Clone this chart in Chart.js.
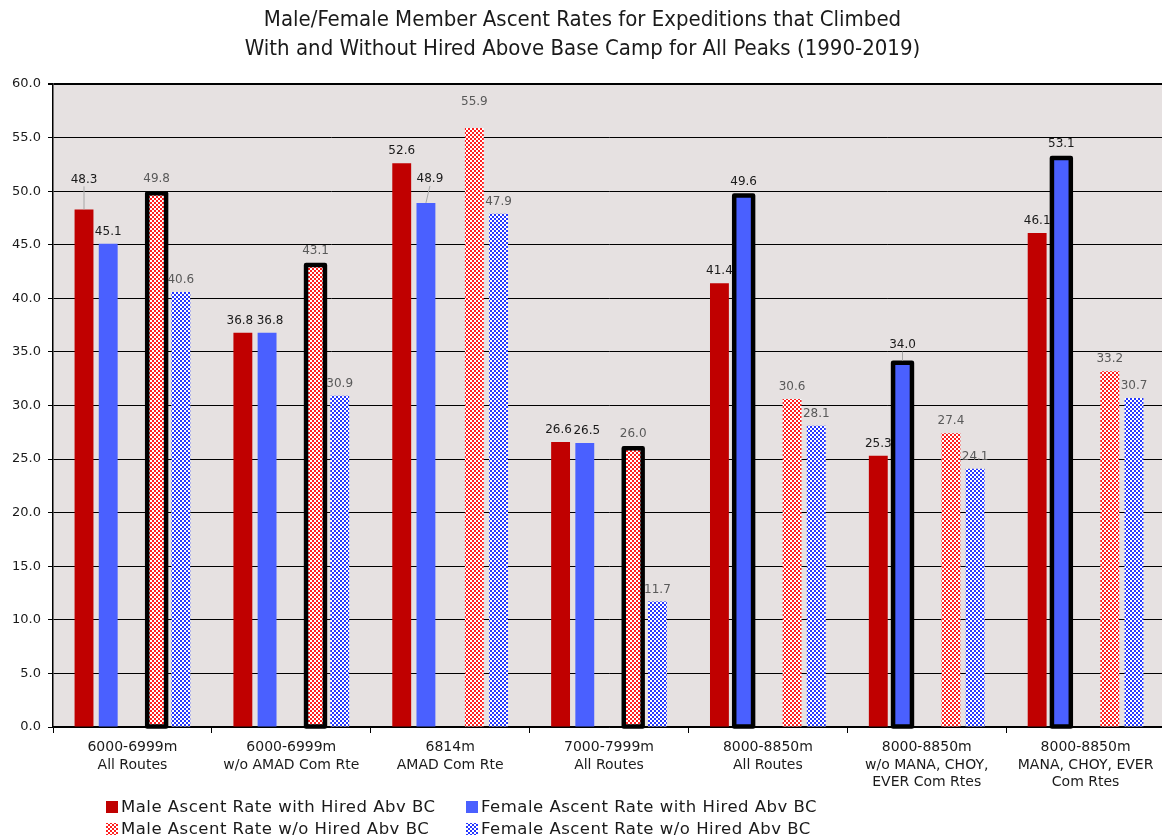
<!DOCTYPE html>
<html><head><meta charset="utf-8">
<script src="https://cdn.jsdelivr.net/npm/chart.js@4.4.1/dist/chart.umd.min.js"></script>
<style>
html,body{margin:0;padding:0;background:#fff;overflow:hidden;}
#wrap{width:1168px;height:840px;position:relative;}
</style>
</head><body><div id="wrap"><canvas id="c"></canvas></div>
<script>
const categories = [
  ["6000-6999m", "All Routes"],
  ["6000-6999m", "w/o AMAD Com Rte"],
  ["6814m", "AMAD Com Rte"],
  ["7000-7999m", "All Routes"],
  ["8000-8850m", "All Routes"],
  ["8000-8850m", "w/o MANA, CHOY,", "EVER Com Rtes"],
  ["8000-8850m", "MANA, CHOY, EVER", "Com Rtes"]
];
const maleWithHired     = [48.3, 36.8, 52.6, 26.6, 41.4, 25.3, 46.1];
const femaleWithHired   = [45.1, 36.8, 48.9, 26.5, 49.6, 34.0, 53.1];
const maleWithoutHired  = [49.8, 43.1, 55.9, 26.0, 30.6, 27.4, 33.2];
const femaleWithoutHired= [40.6, 30.9, 47.9, 11.7, 28.1, 24.1, 30.7];
const seriesNames = [
  "Male Ascent Rate with Hired Abv BC",
  "Female Ascent Rate with Hired Abv BC",
  "Male Ascent Rate w/o Hired Abv BC",
  "Female Ascent Rate w/o Hired Abv BC"
];
const yTicks = [0,5,10,15,20,25,30,35,40,45,50,55,60];
// categories whose bar is outlined in black
const outlinedMaleWithout = [0, 1, 3];
const outlinedFemaleWith  = [4, 5, 6];

const FONT = "'DejaVu Sans', Verdana, sans-serif";
const TITLE_FONT = "'DejaVu Sans Condensed', 'Liberation Sans Narrow', 'DejaVu Sans', sans-serif";

function checker(c1, c2, s) {
  const cv = document.createElement('canvas');
  cv.width = s * 2; cv.height = s * 2;
  const g = cv.getContext('2d');
  g.fillStyle = c2; g.fillRect(0, 0, s * 2, s * 2);
  g.fillStyle = c1; g.fillRect(0, 0, s, s); g.fillRect(s, s, s, s);
  return g.createPattern(cv, 'repeat');
}
const ctx = document.getElementById('c').getContext('2d');
const redPattern = checker('#FF2020', '#FFFFFF', 2);
const bluePattern = checker('#2638FF', '#FFFFFF', 2);

const colors = {
  maleSolid: '#C00000',
  femaleSolid: '#4A60FF'
};

const datasets = [
  { label: seriesNames[0], data: maleWithHired, backgroundColor: colors.maleSolid },
  { label: seriesNames[1], data: femaleWithHired, backgroundColor: colors.femaleSolid, outlined: outlinedFemaleWith },
  { label: '', data: categories.map(() => null), backgroundColor: 'rgba(0,0,0,0)', spacer: true },
  { label: seriesNames[2], data: maleWithoutHired, backgroundColor: redPattern, outlined: outlinedMaleWithout, labelColor: '#595959' },
  { label: seriesNames[3], data: femaleWithoutHired, backgroundColor: bluePattern, labelColor: '#595959' }
];
datasets.forEach(d => { d.borderWidth = 0; d.categoryPercentage = 0.762; d.barPercentage = 0.78; });

// label adjustments: [datasetIndex, categoryIndex, extra lift, dx, leader line]
const labelAdjust = [
  [0, 0, 18, 0, true],
  [1, 2, 12, 4, true],
  [1, 5, 4, 0, true],
  [3, 2, 14, 0, false],
  [0, 1, 0, -3, false],
  [1, 1, 0, 3, false],
  [0, 3, 0, -2, false],
  [1, 3, 0, 2, false]
];

const bgPlugin = {
  id: 'bg',
  beforeDraw(chart) {
    const a = chart.chartArea, c = chart.ctx;
    c.save(); c.fillStyle = '#E6E1E1';
    c.fillRect(a.left, a.top, a.right - a.left, a.bottom - a.top);
    c.restore();
  }
};

const outlinePlugin = {
  id: 'outline',
  afterDatasetsDraw(chart) {
    const c = chart.ctx;
    c.save();
    c.strokeStyle = '#000'; c.lineWidth = 4.5; c.lineJoin = 'round';
    chart.data.datasets.forEach((ds, di) => {
      if (!ds.outlined) return;
      const meta = chart.getDatasetMeta(di);
      ds.outlined.forEach(i => {
        const el = meta.data[i];
        const p = el.getProps(['x', 'y', 'base', 'width'], true);
        c.strokeRect(p.x - p.width / 2, p.y, p.width, p.base - p.y);
      });
    });
    c.restore();
  }
};

const labelPlugin = {
  id: 'vlabels',
  afterDatasetsDraw(chart) {
    const c = chart.ctx;
    c.save();
    c.font = '12px ' + FONT;
    c.textAlign = 'center'; c.textBaseline = 'middle';
    chart.data.datasets.forEach((ds, di) => {
      if (ds.spacer) return;
      const meta = chart.getDatasetMeta(di);
      meta.data.forEach((el, i) => {
        const v = ds.data[i];
        if (v == null) return;
        const outlined = ds.outlined && ds.outlined.includes(i);
        let off = outlined ? 14 : 12, dx = 0, line = false;
        labelAdjust.forEach(a => { if (a[0] === di && a[1] === i) { off += a[2]; dx = a[3]; line = a[4]; } });
        const ly = el.y - off;
        if (line) {
          c.strokeStyle = '#A6A6A6'; c.lineWidth = 1;
          c.beginPath(); c.moveTo(el.x + dx, ly + 7); c.lineTo(el.x, el.y - (outlined ? 2 : 0)); c.stroke();
        }
        c.fillStyle = ds.labelColor || '#1a1a1a';
        c.fillText(v.toFixed(1), el.x + dx, ly);
      });
    });
    c.restore();
  }
};

const legendPlugin = {
  id: 'gridLegend',
  afterDraw(chart) {
    const c = chart.ctx, a = chart.chartArea;
    const items = [[0, 0, 0], [1, 1, 0], [3, 0, 1], [4, 1, 1]];
    const colX = [106, 466], rowY = [a.bottom + 80, a.bottom + 102];
    c.save();
    c.font = '16.5px ' + FONT;
    if ('letterSpacing' in c) c.letterSpacing = '0.5px';
    c.textBaseline = 'middle'; c.textAlign = 'left';
    items.forEach(([di, col, row]) => {
      const ds = chart.data.datasets[di];
      const x = colX[col], y = rowY[row];
      c.fillStyle = ds.backgroundColor;
      c.fillRect(x, y - 6, 12, 12);
      c.fillStyle = '#1a1a1a';
      c.fillText(ds.label, x + 15, y + 1);
    });
    c.restore();
  }
};

new Chart(ctx, {
  type: 'bar',
  data: { labels: categories, datasets },
  options: {
    responsive: true,
    maintainAspectRatio: false,
    animation: false,
    layout: { padding: { left: 0, right: 3, top: 0, bottom: 43 } },
    plugins: {
      legend: { display: false },
      tooltip: { enabled: false },
      title: {
        display: true,
        text: ["Male/Female Member Ascent Rates for Expeditions that Climbed",
               "With and Without Hired Above Base Camp for All Peaks (1990-2019)"],
        color: '#1a1a1a',
        font: { family: TITLE_FONT, size: 22, weight: 'normal', lineHeight: 1.35 },
        padding: { top: 5, bottom: 19.6 }
      }
    },
    scales: {
      x: {
        afterFit(s) { s.height = 70; },
        grid: { offset: true, drawOnChartArea: false, drawTicks: true, tickLength: 6, color: '#000' },
        border: { color: '#000', width: 1.5 },
        ticks: { color: '#1a1a1a', font: { family: FONT, size: 14, lineHeight: 1.25 }, padding: 6, maxRotation: 0, autoSkip: false }
      },
      y: {
        min: 0, max: 60,
        afterFit(s) { s.width = 53; },
        afterBuildTicks(s) { s.ticks = yTicks.map(v => ({ value: v })); },
        grid: {
          color: '#000',
          lineWidth: (c) => (c.tick && c.tick.value === 60 ? 2 : 1),
          tickLength: 5
        },
        border: { color: '#000', width: 1.5 },
        ticks: { color: '#1a1a1a', font: { family: FONT, size: 13 }, padding: 7, callback: v => Number(v).toFixed(1) }
      }
    }
  },
  plugins: [bgPlugin, outlinePlugin, labelPlugin, legendPlugin]
});
</script>
</body></html>
